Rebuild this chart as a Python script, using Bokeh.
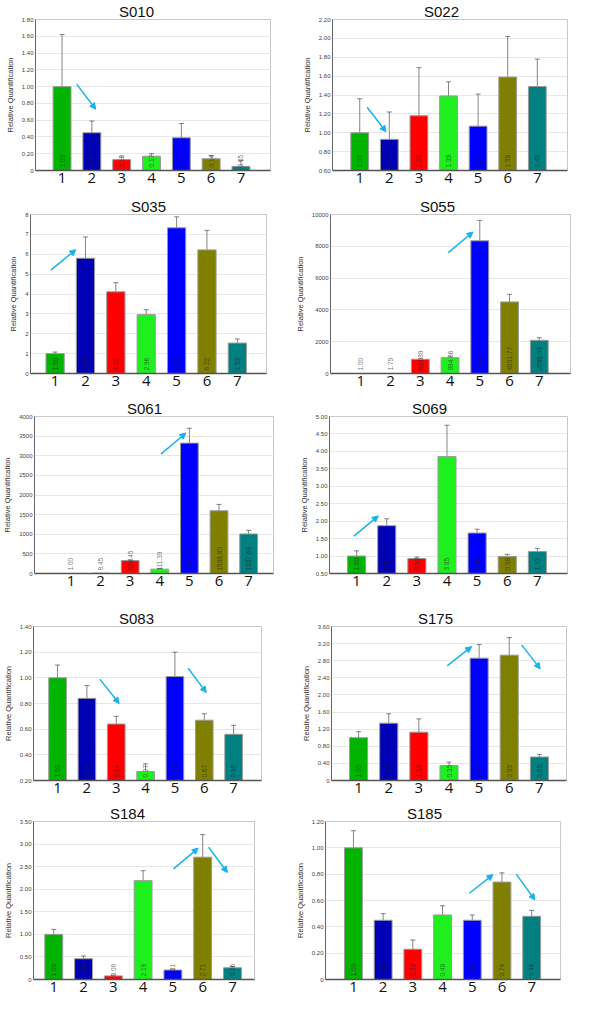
import math
from bokeh.plotting import figure
from bokeh.models import (Range1d, FixedTicker, ColumnDataSource, Whisker, TeeHead,
                          Arrow, NormalHead, CustomJSTickFormatter)
from bokeh.layouts import column, row
from bokeh.embed import file_html
from bokeh.resources import INLINE
from bokeh.core.properties import value

NaN = float("nan")

categories = ["1", "2", "3", "4", "5", "6", "7"]
bar_colors = ["#00b400", "#0000b4", "#ff0000", "#1ef01e", "#0000ff", "#808000", "#008080"]
arrow_color = "#1ab2ec"

# ---- S010
s010_values = [1.00, 0.45, 0.13, 0.17, 0.39, 0.14, 0.05]
s010_lower = [0.62, 0.34, 0.10, 0.13, 0.22, 0.10, 0.02]
s010_upper = [1.62, 0.59, 0.16, 0.20, 0.56, 0.18, 0.12]
s010_yticks = ["0", "0.20", "0.40", "0.60", "0.80", "1.00", "1.20", "1.40", "1.60", "1.80"]
s010_arrows = [(1.49, 1.03, 2.13, 0.73)]

# ---- S022
s022_values = [1.00, 0.93, 1.18, 1.39, 1.07, 1.59, 1.49]
s022_lower = [0.72, 0.63, 0.82, 1.26, 0.79, 1.25, 1.25]
s022_upper = [1.36, 1.22, 1.69, 1.54, 1.41, 2.02, 1.78]
s022_yticks = ["0.60", "0.80", "1.00", "1.20", "1.40", "1.60", "1.80", "2.00", "2.20"]
s022_arrows = [(1.25, 1.27, 1.89, 1.01)]

# ---- S035
s035_values = [1.00, 5.80, 4.11, 2.96, 7.33, 6.22, 1.53]
s035_lower = [0.90, 4.85, 3.66, 2.70, 6.77, 5.35, 1.39]
s035_upper = [1.08, 6.87, 4.57, 3.21, 7.88, 7.20, 1.74]
s035_yticks = ["0", "1", "2", "3", "4", "5", "6", "7", "8"]
s035_arrows = [(0.86, 5.20, 1.68, 6.23)]

# ---- S055
s055_values = [1.00, 1.79, 893.89, 994.86, 8343.88, 4501.77, 2086.99]
s055_lower = [NaN, NaN, 850, 950, 7250, 4050, 1965]
s055_upper = [NaN, NaN, 940, 1040, 9630, 4980, 2250]
s055_yticks = ["0", "2000", "4000", "6000", "8000", "10000"]
s055_arrows = [(3.94, 7600, 4.77, 8900)]

# ---- S061
s061_values = [1.00, 8.45, 328.45, 111.39, 3321.73, 1598.80, 1007.64]
s061_lower = [NaN, NaN, 300, 95, 2995, 1455, 915]
s061_upper = [NaN, NaN, 350, 130, 3700, 1760, 1100]
s061_yticks = ["0", "500", "1000", "1500", "2000", "2500", "3000", "3500", "4000"]
s061_arrows = [(4.04, 3040, 4.88, 3580)]

# ---- S069
s069_values = [1.00, 1.87, 0.93, 3.85, 1.66, 0.99, 1.13]
s069_lower = [0.84, 1.67, 0.85, 3.11, 1.52, 0.88, 1.00]
s069_upper = [1.15, 2.07, 0.97, 4.75, 1.77, 1.05, 1.22]
s069_yticks = ["0.50", "1.00", "1.50", "2.00", "2.50", "3.00", "3.50", "4.00", "4.50", "5.00"]
s069_arrows = [(0.91, 1.57, 1.72, 2.15)]

# ---- S083
s083_values = [1.00, 0.84, 0.64, 0.27, 1.01, 0.67, 0.56]
s083_lower = [0.90, 0.74, 0.585, 0.22, 0.85, 0.62, 0.49]
s083_upper = [1.10, 0.94, 0.70, 0.33, 1.20, 0.72, 0.63]
s083_yticks = ["0.20", "0.40", "0.60", "0.80", "1.00", "1.20", "1.40"]
s083_arrows = [(2.44, 0.99, 3.10, 0.80), (5.45, 1.075, 6.07, 0.885)]

# ---- S175
s175_values = [1.00, 1.34, 1.13, 0.35, 2.86, 2.93, 0.55]
s175_lower = [0.86, 1.13, 0.86, 0.28, 2.57, 2.57, 0.48]
s175_upper = [1.14, 1.56, 1.44, 0.43, 3.18, 3.34, 0.61]
s175_yticks = ["0", "0.40", "0.80", "1.20", "1.60", "2.00", "2.40", "2.80", "3.20", "3.60"]
s175_arrows = [(3.94, 2.68, 4.75, 3.13), (6.41, 3.17, 7.03, 2.61)]

# ---- S184
s184_values = [1.00, 0.46, 0.08, 2.19, 0.21, 2.71, 0.26]
s184_lower = [0.89, 0.39, 0.07, 1.98, 0.19, 2.27, 0.24]
s184_upper = [1.11, 0.52, 0.10, 2.41, 0.23, 3.21, 0.29]
s184_yticks = ["0", "0.50", "1.00", "1.50", "2.00", "2.50", "3.00", "3.50"]
s184_arrows = [(5.02, 2.45, 5.85, 2.91), (6.20, 2.93, 6.83, 2.37)]

# ---- S185
s185_values = [1.00, 0.45, 0.23, 0.49, 0.45, 0.74, 0.48]
s185_lower = [0.88, 0.39, 0.18, 0.42, 0.405, 0.68, 0.435]
s185_upper = [1.13, 0.50, 0.30, 0.56, 0.49, 0.81, 0.525]
s185_yticks = ["0", "0.20", "0.40", "0.60", "0.80", "1.00", "1.20"]
s185_arrows = [(4.90, 0.655, 5.70, 0.797), (6.48, 0.80, 7.11, 0.604)]

panels = [
    ("S010", s010_values, s010_lower, s010_upper, s010_yticks, s010_arrows),
    ("S022", s022_values, s022_lower, s022_upper, s022_yticks, s022_arrows),
    ("S035", s035_values, s035_lower, s035_upper, s035_yticks, s035_arrows),
    ("S055", s055_values, s055_lower, s055_upper, s055_yticks, s055_arrows),
    ("S061", s061_values, s061_lower, s061_upper, s061_yticks, s061_arrows),
    ("S069", s069_values, s069_lower, s069_upper, s069_yticks, s069_arrows),
    ("S083", s083_values, s083_lower, s083_upper, s083_yticks, s083_arrows),
    ("S175", s175_values, s175_lower, s175_upper, s175_yticks, s175_arrows),
    ("S184", s184_values, s184_lower, s184_upper, s184_yticks, s184_arrows),
    ("S185", s185_values, s185_lower, s185_upper, s185_yticks, s185_arrows),
]

# layout geometry: (height, border_left, border_right, border_top, border_bottom, x_start, x_end, title_center_x)
geometry = [
    (192, 35, 22, 16, 20, 0.11, 7.99, 136),
    (192, 40, 17, 16, 22, 0.08, 8.02, 149),
    (203, 30, 26, 22, 21, 0.19, 7.96, 148),
    (203, 31, 14, 21, 22, -0.02, 8.05, 138),
    (198, 30, 19, 21, 20, -0.23, 7.84, 140),
    (198, 37, 17, 19, 20, 0.10, 8.00, 137),
    (208, 30, 31, 33, 20, 0.18, 7.95, 133),
    (208, 39, 18, 30, 21, 0.10, 7.90, 143),
    (200, 30, 38, 19, 22, 0.32, 7.74, 124),
    (200, 30, 24, 20, 22, 0.06, 7.97, 129),
]
FIG_W = 292
TITLE_HALF_W = 17.5


def make_panel(title, values, lower, upper, ytick_labels, arrows, geo):
    h, bl, br, bt, bb, x0, x1, tx = geo
    yt = [float(s) for s in ytick_labels]
    y0, y1 = yt[0], yt[-1]
    p = figure(width=FIG_W, height=h, x_range=Range1d(x0, x1), y_range=Range1d(y0, y1),
               title=title, output_backend="svg", toolbar_location=None,
               min_border_left=bl, min_border_right=br, min_border_top=bt, min_border_bottom=bb)
    p.background_fill_color = "white"
    p.outline_line_color = "#c8c8c8"
    p.outline_line_width = 1

    p.title.align = "left"
    p.title.offset = tx - TITLE_HALF_W - bl
    p.title.standoff = 0
    p.title.text_font = "Liberation Sans"
    p.title.text_font_size = "15px"
    p.title.text_font_style = "normal"
    p.title.text_color = "#111111"

    xs = list(range(1, len(categories) + 1))
    src = ColumnDataSource(dict(
        x=xs, top=values, lower=lower, upper=upper, color=bar_colors,
        label=["%.2f" % v for v in values]))

    # y axis
    yticker = FixedTicker(ticks=yt)
    p.yaxis.ticker = yticker
    p.ygrid.ticker = yticker
    p.yaxis.formatter = CustomJSTickFormatter(args=dict(vals=yt, labels=ytick_labels), code="""
        const i = vals.findIndex(v => Math.abs(v - tick) < 1e-7 * Math.max(1, Math.abs(v)));
        return i >= 0 ? labels[i] : "";
    """)
    p.yaxis.axis_label = "Relative Quantification"
    p.yaxis.axis_label_text_font_size = "7.5px"
    p.yaxis.axis_label_text_font_style = "normal"
    p.yaxis.axis_label_text_font = "Liberation Sans"
    p.yaxis.axis_label_text_color = "#333333"
    p.yaxis.axis_label_standoff = 4
    p.yaxis.major_label_text_font_size = "6px"
    p.yaxis.major_label_text_font = "Liberation Sans"
    p.yaxis.major_label_text_color = "#444444"
    p.yaxis.major_label_standoff = 2
    p.yaxis.major_tick_out = 0
    p.yaxis.major_tick_in = 0
    p.yaxis.minor_tick_out = 0
    p.yaxis.minor_tick_in = 0
    p.yaxis.axis_line_color = "#666666"
    p.ygrid.grid_line_color = "#e8e8e8"
    p.xgrid.visible = False

    # x axis
    xticker = FixedTicker(ticks=xs)
    p.xaxis.ticker = xticker
    p.xaxis.formatter = CustomJSTickFormatter(args=dict(cats=categories), code="""
        return cats[Math.round(tick) - 1];
    """)
    p.xaxis.major_label_text_font_size = "15px"
    p.xaxis.major_label_text_font = "Open Sans"
    p.xaxis.major_label_text_color = "#111111"
    p.xaxis.major_label_standoff = 2
    p.xaxis.major_tick_out = 0
    p.xaxis.major_tick_in = 0
    p.xaxis.minor_tick_out = 0
    p.xaxis.minor_tick_in = 0
    p.xaxis.axis_line_color = "#555555"
    p.xaxis.axis_line_width = 1.5

    p.vbar(x="x", top="top", bottom=y0, width=0.6, fill_color="color",
           line_color="#9a9a9a", line_width=1, source=src)

    head = dict(size=5, line_color="#333333", line_alpha=0.6, line_width=1)
    p.add_layout(Whisker(source=src, base="x", upper="upper", lower="lower",
                         line_color="#333333", line_alpha=0.6, line_width=1,
                         upper_head=TeeHead(**head), lower_head=TeeHead(**head)))

    p.text(x="x", y=y0, text="label", source=src, angle=math.pi / 2,
           text_align="left", text_baseline="middle", y_offset=-3,
           text_font_size="6.5px", text_font=value("Liberation Sans"),
           text_color="#222222", text_alpha=0.65)

    for (ax0, ay0, ax1, ay1) in arrows:
        p.add_layout(Arrow(x_start=ax0, y_start=ay0, x_end=ax1, y_end=ay1,
                           line_color=arrow_color, line_width=1.5,
                           end=NormalHead(size=6, fill_color=arrow_color, line_color=arrow_color)))
    return p


figs = [make_panel(*panels[i], geometry[i]) for i in range(len(panels))]
layout = column(*[row(figs[2 * r], figs[2 * r + 1]) for r in range(5)])

open("out.html", "w").write(file_html(layout, INLINE))
